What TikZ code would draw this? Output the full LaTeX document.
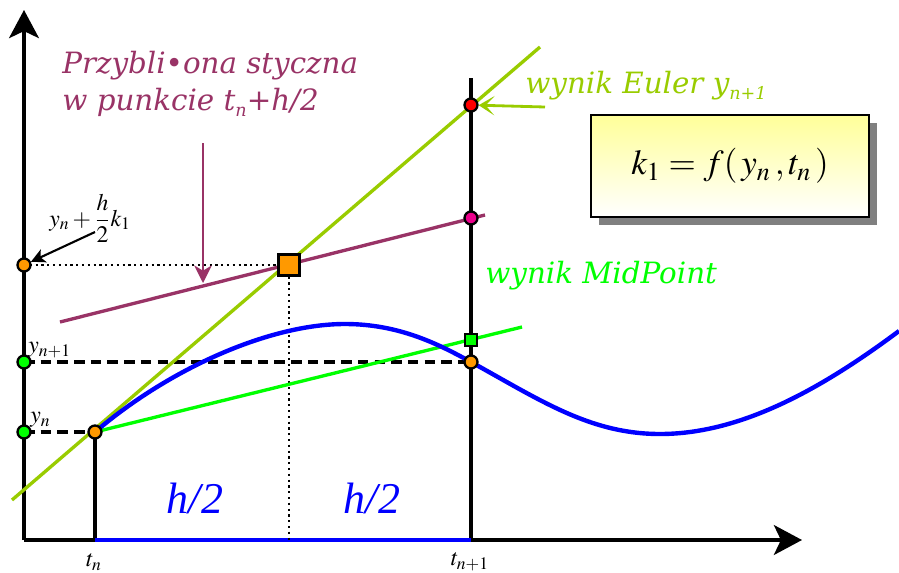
\documentclass[tikz,border=0pt]{standalone}
\usepackage{mathptmx}
\usepackage{fontspec}
\newfontfamily\bookfont{DejaVu Serif}
\newfontfamily\timesfont{Liberation Serif}
\usepackage{xcolor}
\usetikzlibrary{arrows.meta, calc, shadows}
\definecolor{tangcol}{HTML}{993366}
\definecolor{eulercol}{HTML}{99CC00}
\definecolor{midcol}{HTML}{00FF00}
\definecolor{ptorange}{HTML}{FF9900}
\definecolor{boxyellow}{HTML}{FFFF99}
\tikzset{
    pt/.style={circle, draw, line width=1.3pt, inner sep=0pt, minimum size=0.26cm},
    sqr/.style={rectangle, draw, line width=1.3pt, inner sep=0pt, minimum size=#1},
    ax/.style={line width=1.9pt, -{Stealth[length=16pt, width=17pt, inset=4pt]}},
    lbl/.style={font=\bookfont\itshape\fontsize{16.7}{20}\selectfont, inner sep=0pt, anchor=base west},
    mlbl/.style={font=\fontsize{13.5}{15}\selectfont, inner sep=0pt},
    dsh/.style={line width=1.8pt, dash pattern=on 6pt off 3.5pt},
    dts/.style={line width=1.3pt, dash pattern=on 1.3pt off 2pt},
    dg/.style={>=Stealth, line cap=butt}
}

\begin{document}
\begin{tikzpicture}[x=0.02cm, y=-0.02cm, dg]
    \useasboundingbox (0,0) rectangle (899,572);

    \coordinate (O) at (24,540);
    \coordinate (ytop) at (24,10);
    \coordinate (xend) at (802,540);
    \coordinate (A) at (95,432);
    \coordinate (B) at (471,362);
    \coordinate (M) at (289,265);
    \coordinate (E) at (471,105);
    \coordinate (P) at (471,218);
    \coordinate (Q) at (471,340);
    \coordinate (pk) at (345,324);
    \coordinate (lo) at (660,434);
    \coordinate (rend) at (899,331);
    \coordinate (tnb) at (95,540);
    \coordinate (tnb1) at (471,540);
    \coordinate (tnt1) at (471,78);
    \coordinate (mb) at (289,540);
    \coordinate (e0) at (12,500);
    \coordinate (e1) at (540,47);
    \coordinate (p0) at (60,322);
    \coordinate (p1) at (485,215);
    \coordinate (g1) at (522,327);
    \coordinate (y0) at (24,432);
    \coordinate (y1) at (24,362);
    \coordinate (y2) at (24,265);

    % axes and grid lines
    \draw[ax] (O) -- (ytop);
    \draw[ax] (O) -- (xend);
    \draw[line width=1.9pt] (tnb) -- (A);
    \draw[line width=1.9pt] (tnb1) -- (tnt1);
    \draw[blue, line width=1.9pt] (tnb) -- (tnb1);
    \draw[dsh] (y0) -- (A);
    \draw[dsh] (y1) -- (B);
    \draw[dts] (y2) -- (M);
    \draw[dts] (M) -- (mb);

    % lines
    \draw[eulercol, line width=1.9pt] (e0) -- (e1);
    \draw[tangcol, line width=1.9pt] (p0) -- (p1);
    \draw[midcol, line width=1.9pt] (A) -- (g1);
    \draw[blue, line width=2.5pt] (A) .. controls (170,368) and (270,324) .. (pk)
        .. controls (400,324) and (440,345) .. (B)
        .. controls (540,400) and (590,434) .. (lo)
        .. controls (740,434) and (820,390) .. (rend);

    % points
    \node[pt, fill=midcol] (nyn) at (y0) {};
    \node[pt, fill=midcol] (nyn1) at (y1) {};
    \node[pt, fill=ptorange] (nym) at (y2) {};
    \node[pt, fill=ptorange] (nA) at (A) {};
    \node[pt, fill=ptorange] (nB) at (B) {};
    \node[pt, fill=red] (nE) at (E) {};
    \node[pt, fill=magenta] (nP) at (P) {};
    \node[sqr=0.24cm, fill=midcol] (nQ) at (Q) {};
    \node[sqr=0.42cm, fill=ptorange] (nM) at (M) {};

    % labels
    \node[lbl, text=tangcol] (tang1) at (62,73) {Przybli\textbullet ona styczna};
    \node[lbl, text=tangcol] (tang2) at (62,110) {w punkcie t\raisebox{-0.4ex}{\fontsize{10}{10}\selectfont n}+h/2};
    \coordinate (ta0) at (203,143);
    \coordinate (ta1) at (203,283);
    \draw[tangcol, line width=1.3pt, -{Stealth[length=10pt, width=10pt, inset=3pt]}] (ta0) -- (ta1);

    \node[lbl, text=eulercol] (eul) at (525,93) {wynik Euler y\raisebox{-0.45ex}{\fontsize{10}{10}\selectfont n+1}};
    \coordinate (ea0) at (545,107);
    \draw[eulercol, line width=1.6pt, -{Stealth[length=9pt, width=11pt, inset=5pt]}] (ea0) -- (nE);

    \node[lbl, text=midcol] (mid) at (485,283) {wynik MidPoint};

    \node[mlbl] (lhalf) at (90,218) {$y_n+\displaystyle\frac{h}{2}k_1$};
    \coordinate (ha0) at (95,232);
    \draw[line width=1.2pt, -{Stealth[length=8pt, width=8pt, inset=2pt]}] (ha0) -- (nym);

    \node[mlbl, anchor=south west] (lyn) at (30,428) {$y_n$};
    \node[mlbl, anchor=south west] (lyn1) at (28,358) {$y_{n+1}$};
    \node[mlbl] (ltn) at (94,562) {$t_n$};
    \node[mlbl] (ltn1) at (470,562) {$t_{n+1}$};

    \node[text=blue, font=\timesfont\itshape\fontsize{25}{28}\selectfont] (h1) at (195,498) {h/2};
    \node[text=blue, font=\timesfont\itshape\fontsize{25}{28}\selectfont] (h2) at (372,498) {h/2};

    \node[draw, line width=1.2pt, top color=boxyellow, bottom color=white,
          minimum width=5.56cm, minimum height=2.04cm,
          drop shadow={shadow xshift=4.5pt, shadow yshift=-4.5pt, fill=gray, opacity=1}]
          (kbox) at (730,166) {\fontsize{20}{24}\selectfont $k_1 = f(\,y_n\,,t_n\,)$};
\end{tikzpicture}
\end{document}
